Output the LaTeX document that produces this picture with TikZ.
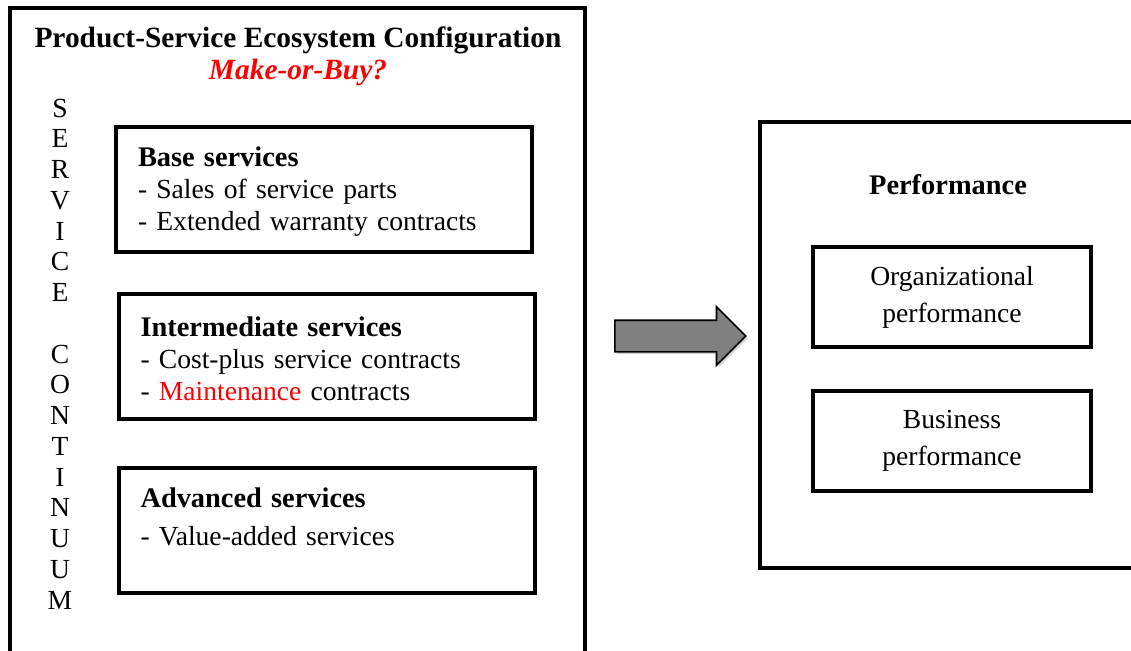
\documentclass[tikz,border=0pt]{standalone}
\usepackage{fontspec}
\setmainfont{Liberation Serif}
\usetikzlibrary{shapes.arrows,shadows}

\begin{document}
\fontsize{13.8}{16}\selectfont
\begin{tikzpicture}[x=0.5pt, y=-0.5pt,
    outerbox/.style={draw, line width=2.25pt},
    head/.style={font=\fontsize{14.2}{16}\selectfont\bfseries},
    servicebox/.style={draw, line width=2pt, minimum width=208pt, minimum height=62.5pt,
        text width=186pt, inner xsep=11pt, align=left},
    perfbox/.style={draw, line width=2pt, minimum width=139pt, minimum height=50pt,
        align=center, font=\fontsize{13.8}{18.5}\selectfont}]
    \useasboundingbox (0,0) rectangle (1131,650);
    \clip (0,0) rectangle (1131,650);

    % Left: service continuum
    \draw[outerbox] (10,8) rectangle (585,670);
    \node[font=\fontsize{14.7}{16}\selectfont\bfseries] (title) at (298,40) {Product-Service Ecosystem Configuration};
    \node[font=\fontsize{14.7}{16}\selectfont\bfseries\itshape, red] (makebuy) at (298,72) {Make-or-Buy?};

    % Vertical label
    \foreach \ch [count=\i from 0] in {S,E,R,V,I,C,E,{},C,O,N,T,I,N,U,U,M}
        \node[inner sep=0pt] (sc\i) at (60,{108+30.75*\i}) {\ch};

    % Service levels
    \node[servicebox] (base) at (324,189.5)
        {\rule{0pt}{12pt}\textbf{\fontsize{14.2}{16}\selectfont Base services}\\- Sales of service parts\\- Extended warranty contracts};
    \node[servicebox] (inter) at (326.5,356.5)
        {\rule{0pt}{12pt}\textbf{\fontsize{14.2}{16}\selectfont Intermediate services}\\- Cost-plus service contracts\\- \textcolor{red}{Maintenance} contracts};
    \node[servicebox] (adv) at (326.5,530.5)
        {\rule{0pt}{12pt}\textbf{\fontsize{14.2}{16}\selectfont Advanced services}\\[3pt]- Value-added services\\~};

    % Arrow
    \node[single arrow, draw=black, fill=gray, line width=0.8pt, inner sep=7.5pt,
        minimum height=65.5pt, single arrow head extend=6.75pt,
        single arrow tip angle=90, single arrow head indent=0pt, anchor=tail,
        drop shadow={shadow xshift=1pt, shadow yshift=-1pt, opacity=0.35}] (arrow) at (614,336) {};

    % Right: performance
    \draw[outerbox] (760,122) rectangle (1150,568);
    \node[head] (perf) at (948,185) {Performance};
    \node[perfbox] (org) at (952,297) {Organizational\\performance};
    \node[perfbox] (bus) at (952,441) {Business\\performance};
\end{tikzpicture}
\end{document}
